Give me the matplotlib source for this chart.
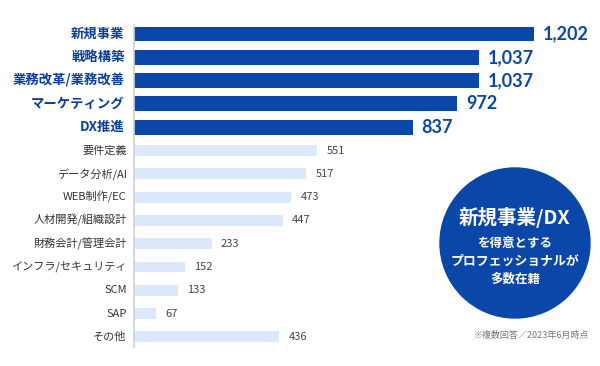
import numpy as np
import matplotlib
matplotlib.use('Agg')
import matplotlib.pyplot as plt
from matplotlib.patches import Circle

plt.rcParams['font.family'] = ['Noto Sans CJK JP', 'DejaVu Sans']

categories = ['新規事業', '戦略構築', '業務改革/業務改善', 'マーケティング', 'DX推進',
              '要件定義', 'データ分析/AI', 'WEB制作/EC', '人材開発/組織設計',
              '財務会計/管理会計', 'インフラ/セキュリティ', 'SCM', 'SAP', 'その他']
values = [1202, 1037, 1037, 972, 837, 551, 517, 473, 447, 233, 152, 133, 67, 436]
n_top = 5

dark = '#0a47a8'
light = '#dce8fb'
label_dark = '#0b3f9c'
gray = '#444444'

fig = plt.figure(figsize=[6, 3.66], dpi=100)
W, H = 600, 366
ax_left, ax_right, ax_top, ax_bot = 134, 600, 22, 350
ax = fig.add_axes([ax_left / W, 1 - ax_bot / H, (ax_right - ax_left) / W, (ax_bot - ax_top) / H])

px_per_unit = 400 / 1202
ax.set_xlim(0, (ax_right - ax_left) / px_per_unit)
row = 23.3
ax.set_ylim((ax_bot - 34) / row, -(34 - ax_top) / row)

for i, (c, v) in enumerate(zip(categories, values)):
    top = i < n_top
    ax.barh(i, v, height=0.64 if top else 0.47, color=dark if top else light, left=0)
    if top:
        ax.text(v + 26, i, f'{v:,}', color=dark, fontsize=13, fontweight='bold',
                va='center', ha='left', family='Lato')
        ax.text(-28, i, c, color=label_dark, fontsize=9.6, fontweight='bold',
                va='center', ha='right')
    else:
        ax.text(v + 28, i, f'{v:,}', color=gray, fontsize=8, va='center', ha='left')
        ax.text(-22, i, c, color='#333333', fontsize=8, va='center', ha='right')

for s in ['top', 'right', 'bottom']:
    ax.spines[s].set_visible(False)
ax.spines['left'].set_color('#d0d0d0')
ax.spines['left'].set_linewidth(1.2)
ax.spines['left'].set_bounds(-0.4, 13.45)
ax.set_xticks([])
ax.set_yticks([])

# overlay for circle badge and footnote
ov = fig.add_axes([0, 0, 1, 1])
ov.set_xlim(0, W)
ov.set_ylim(H, 0)
ov.axis('off')
ov.patch.set_alpha(0)
ov.add_patch(Circle((515, 243), 75, color=dark))
ov.text(514, 218, '新規事業/DX', color='white', fontsize=14, fontweight='bold',
        ha='center', va='center')
ov.text(515, 243, 'を得意とする', color='white', fontsize=9, fontweight='bold',
        ha='center', va='center')
ov.text(515, 261, 'プロフェッショナルが', color='white', fontsize=9.3, fontweight='bold',
        ha='center', va='center')
ov.text(515, 279, '多数在籍', color='white', fontsize=9, fontweight='bold',
        ha='center', va='center')
ov.text(589, 335, '※複数回答／2023年6月時点', color='#777777', fontsize=6.5,
        ha='right', va='center')

plt.savefig('out.png', dpi=100)
